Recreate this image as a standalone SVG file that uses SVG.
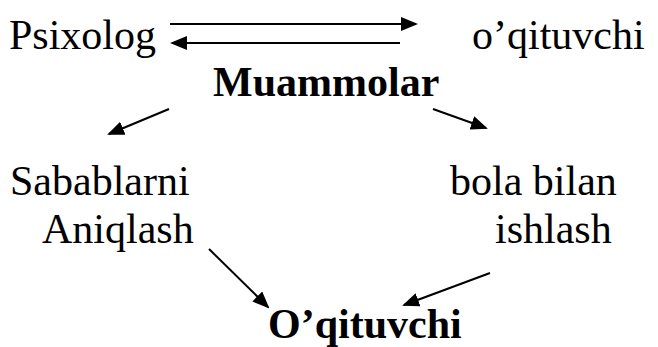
<svg xmlns="http://www.w3.org/2000/svg" width="658" height="347" viewBox="0 0 658 347">
<defs>
<style>
text{font-family:"Liberation Serif","Times New Roman",serif;font-size:42px;fill:#000}
.b{font-weight:bold}
.c line{stroke:#000;stroke-width:2}
</style>
<marker id="ah" markerUnits="userSpaceOnUse" markerWidth="17" markerHeight="14" refX="15" refY="7" orient="auto" viewBox="0 0 17 14">
<path d="M0,0 L17,7 L0,14 z" fill="#000"/>
</marker>
</defs>
<rect width="658" height="347" fill="#fff"/>
<g id="psixolog"><text x="9" y="49">Psixolog</text></g>
<g id="oqituvchi-top"><text x="472" y="49">o’qituvchi</text></g>
<g id="muammolar"><text class="b" x="213" y="96">Muammolar</text></g>
<g id="sabablarni"><text x="10" y="195">Sabablarni</text><text x="42" y="243">Aniqlash</text></g>
<g id="bola"><text x="450" y="195">bola bilan</text><text x="495" y="243">ishlash</text></g>
<g id="oqituvchi-bottom"><text class="b" x="268" y="338">O’qituvchi</text></g>
<g class="c" id="connectors">
<line x1="170" y1="24" x2="416" y2="24" marker-end="url(#ah)"/>
<line x1="400" y1="43" x2="172" y2="43" marker-end="url(#ah)"/>
<line x1="169" y1="109" x2="109" y2="134" marker-end="url(#ah)"/>
<line x1="433" y1="109" x2="486" y2="128" marker-end="url(#ah)"/>
<line x1="209" y1="249" x2="268" y2="307" marker-end="url(#ah)"/>
<line x1="490" y1="273" x2="404" y2="305" marker-end="url(#ah)"/>
</g>
</svg>
